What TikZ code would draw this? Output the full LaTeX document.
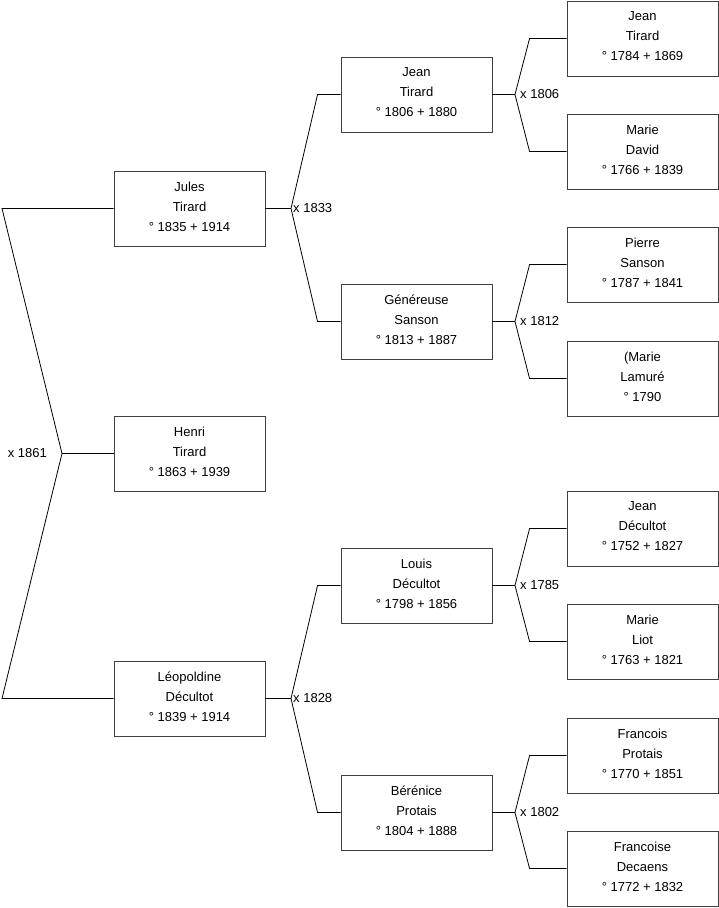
\documentclass[tikz,border=0pt]{standalone}
\usepackage{fontspec}
\setmainfont{Liberation Sans}
\begin{document}
\begin{tikzpicture}[x=1pt,y=-1pt,
  person/.style={draw=black!75,line width=0.9pt,minimum width=151pt,minimum height=75pt,inner sep=0pt,align=center,font=\fontsize{13}{20}\selectfont,execute at end node={\rule[-4pt]{0pt}{4pt}}},
  link/.style={draw=black,line width=0.8pt},
  mar/.style={anchor=west,inner sep=0pt,font=\fontsize{13}{15}\selectfont}]
\useasboundingbox (0,0) rectangle (719,908);
% generation 1
\node[person] (jules) at (189.5,208.5) {Jules\\Tirard\\° 1835 + 1914};
\node[person] (henri) at (189.5,453.5) {Henri\\Tirard\\° 1863 + 1939};
\node[person] (leop) at (189.5,698.5) {Léopoldine\\Décultot\\° 1839 + 1914};
% generation 2
\node[person] (jeanT) at (416.5,94.5) {Jean\\Tirard\\° 1806 + 1880};
\node[person] (gen) at (416.5,321.5) {Généreuse\\Sanson\\° 1813 + 1887};
\node[person] (louis) at (416.5,585.5) {Louis\\Décultot\\° 1798 + 1856};
\node[person] (bere) at (416.5,812.5) {Bérénice\\Protais\\° 1804 + 1888};
% generation 3
\node[person] (jeanT2) at (642.5,38.5) {Jean\\Tirard\\° 1784 + 1869};
\node[person] (marieD) at (642.5,151.5) {Marie\\David\\° 1766 + 1839};
\node[person] (pierre) at (642.5,264.5) {Pierre\\Sanson\\° 1787 + 1841};
\node[person] (marieL) at (642.5,378.5) {(Marie\\Lamuré\\° 1790};
\node[person] (jeanD) at (642.5,528.5) {Jean\\Décultot\\° 1752 + 1827};
\node[person] (marieLi) at (642.5,641.5) {Marie\\Liot\\° 1763 + 1821};
\node[person] (franc) at (642.5,755.5) {Francois\\Protais\\° 1770 + 1851};
\node[person] (france) at (642.5,868.5) {Francoise\\Decaens\\° 1772 + 1832};
% marriage of Jules and Leopoldine
\coordinate (m1861) at (62,453.5);
\draw[link] (jules.west) -- (jules.west -| 2,0) -- (m1861) -- (leop.west -| 2,0) -- (leop.west);
\draw[link] (m1861) -- (henri.west);
\node[mar,anchor=east] at (47,453.5) {x 1861};
% generation 1 -> 2
\coordinate (m1833) at (291,208.5);
\draw[link] (jules.east) -- (m1833);
\draw[link] (m1833) -- ([xshift=-23pt]jeanT.west) -- (jeanT.west);
\draw[link] (m1833) -- ([xshift=-23pt]gen.west) -- (gen.west);
\node[mar] at (293,208.5) {x 1833};
\coordinate (m1828) at (291,698.5);
\draw[link] (leop.east) -- (m1828);
\draw[link] (m1828) -- ([xshift=-23pt]louis.west) -- (louis.west);
\draw[link] (m1828) -- ([xshift=-23pt]bere.west) -- (bere.west);
\node[mar] at (293,698.5) {x 1828};
% generation 2 -> 3
\coordinate (m1806) at (515,94.5);
\draw[link] (jeanT.east) -- (m1806);
\draw[link] (m1806) -- ([xshift=-37pt]jeanT2.west) -- (jeanT2.west);
\draw[link] (m1806) -- ([xshift=-37pt]marieD.west) -- (marieD.west);
\node[mar] at (520,94.5) {x 1806};
\coordinate (m1812) at (515,321.5);
\draw[link] (gen.east) -- (m1812);
\draw[link] (m1812) -- ([xshift=-37pt]pierre.west) -- (pierre.west);
\draw[link] (m1812) -- ([xshift=-37pt]marieL.west) -- (marieL.west);
\node[mar] at (520,321.5) {x 1812};
\coordinate (m1785) at (515,585.5);
\draw[link] (louis.east) -- (m1785);
\draw[link] (m1785) -- ([xshift=-37pt]jeanD.west) -- (jeanD.west);
\draw[link] (m1785) -- ([xshift=-37pt]marieLi.west) -- (marieLi.west);
\node[mar] at (520,585.5) {x 1785};
\coordinate (m1802) at (515,812.5);
\draw[link] (bere.east) -- (m1802);
\draw[link] (m1802) -- ([xshift=-37pt]franc.west) -- (franc.west);
\draw[link] (m1802) -- ([xshift=-37pt]france.west) -- (france.west);
\node[mar] at (520,812.5) {x 1802};
\end{tikzpicture}
\end{document}
